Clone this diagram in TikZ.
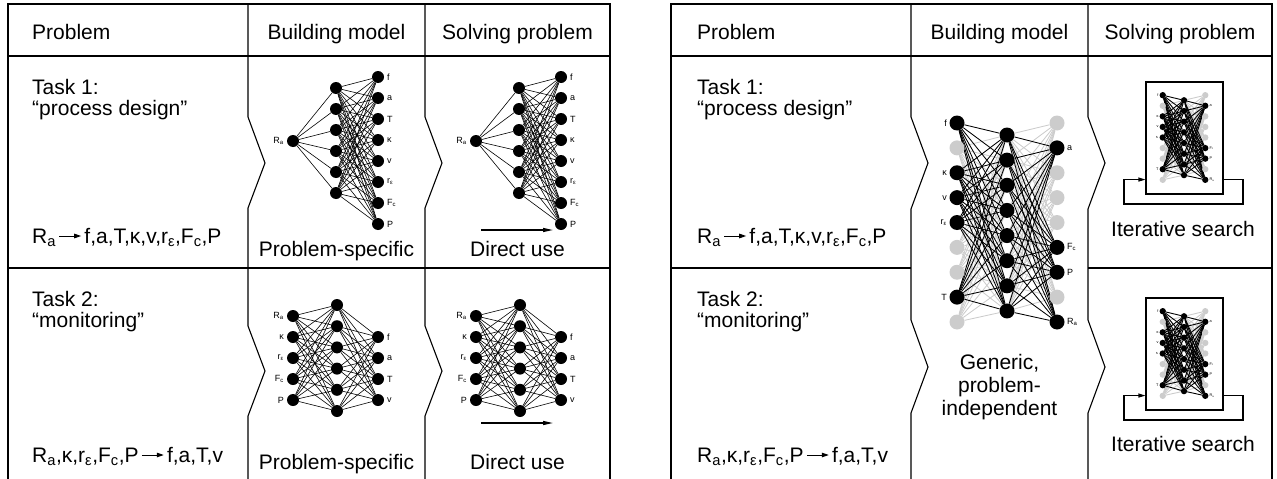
\documentclass[tikz,border=0pt]{standalone}
\usepackage{fontspec}
\setmainfont{Liberation Sans}
\usetikzlibrary{arrows.meta,positioning,backgrounds}
\definecolor{netgray}{gray}{0.8}

\begin{document}
\begin{tikzpicture}[x=1pt,y=-1pt]
	\tikzstyle{frame}=[line width=1.1pt]
	\tikzstyle{txt}=[font=\fontsize{21}{25}\selectfont,inner sep=0pt]
	\tikzstyle{formula}=[font=\fontsize{21}{25}\selectfont,inner sep=3pt]
	\tikzstyle{lbl}=[font=\fontsize{9}{10}\selectfont,inner sep=1pt]
	\tikzstyle{neuron}=[circle,fill=black,inner sep=0pt,minimum size=12pt]
	\tikzstyle{bigneuron}=[circle,fill=black,inner sep=0pt,minimum size=15pt]
	\tikzstyle{ghost}=[circle,fill=netgray,inner sep=0pt,minimum size=15pt]
	\tikzstyle{wire}=[line width=0.6pt]
	\tikzstyle{flow}=[line width=1.3pt,-{Triangle[length=10pt,width=4pt]}]
	\tikzstyle{implies}=[line width=1pt,-{Triangle[length=7pt,width=4.5pt]}]
	\tikzstyle{minibox}=[draw,line width=1.1pt,minimum width=77pt,minimum height=112pt,inner sep=0pt]
	\tikzstyle{feedback}=[line width=1.1pt,-{Triangle[length=7pt,width=4pt]}]

	\useasboundingbox (0,0) rectangle (1277,479);

	% left table
	\draw[frame] (8,479) -- (8,4) -- (610,4) -- (610,479);
	\draw[frame] (8,56) -- (610,56);
	\draw[frame] (8,268) -- (610,268);
	\foreach \sx in {248,425}
		\draw[frame] (\sx,4) -- (\sx,117) -- (\sx+17,163) -- (\sx,208) -- (\sx,326) -- (\sx+17,371) -- (\sx,416) -- (\sx,479);

	\node[txt,anchor=base west] (lhp) at (32,39) {Problem};
	\node[txt,anchor=base] (lhb) at (336.5,39) {Building model};
	\node[txt,anchor=base] (lhs) at (517.5,39) {Solving problem};
	\node[txt,anchor=base west] (lt1a) at (32,94) {Task 1:};
	\node[txt,anchor=base west] (lt1b) at (32,115) {“process design”};
	\node[txt,anchor=base west] (lt2a) at (32,306) {Task 2:};
	\node[txt,anchor=base west] (lt2b) at (32,327) {“monitoring”};
	\node[formula,anchor=base west] (lf1l) at (29,243) {R\textsubscript{a}};
	\node[formula,base right=22pt of lf1l] (lf1r) {f,a,T,κ,v,r\textsubscript{ε},F\textsubscript{c},P};
	\node[formula,anchor=base west] (lf2l) at (29,462) {R\textsubscript{a},κ,r\textsubscript{ε},F\textsubscript{c},P};
	\node[formula,base right=22pt of lf2l] (lf2r) {f,a,T,v};
	\draw[implies] ([yshift=7pt]lf1l.base east) -- ([yshift=7pt]lf1r.base west);
	\draw[implies] ([yshift=7pt]lf2l.base east) -- ([yshift=7pt]lf2r.base west);
	\node[txt,anchor=base] (lps1) at (336.5,256) {Problem-specific};
	\node[txt,anchor=base] (lps2) at (336.5,469) {Problem-specific};
	\node[txt,anchor=base] (ldu1) at (517.5,256) {Direct use};
	\node[txt,anchor=base] (ldu2) at (517.5,469) {Direct use};

	% task 1 networks
	\foreach \sx/\pre in {0/a,183/b}{
		\node[neuron] (\pre in) at (293+\sx,141) {};
		\node[lbl,anchor=east] (\pre inl) at (285+\sx,141) {R\textsubscript{a}};
		\foreach \k in {1,...,6}
			\node[neuron] (\pre h\k) at (336+\sx,{88+21*(\k-1)}) {};
		\foreach \k/\t in {1/f,2/a,3/T,4/κ,5/v,6/{r\textsubscript{ε}},7/{F\textsubscript{c}},8/P}{
			\node[neuron] (\pre o\k) at (378+\sx,{77+21*(\k-1)}) {};
			\node[lbl,anchor=west] (\pre ol\k) at (386+\sx,{77+21*(\k-1)}) {\t};
		}
		\begin{scope}[on background layer]
			\foreach \k in {1,...,6}{
				\draw[wire] (\pre in) -- (\pre h\k);
				\foreach \m in {1,...,8}
					\draw[wire] (\pre h\k) -- (\pre o\m);
			}
		\end{scope}
	}

	% task 2 networks
	\foreach \sx/\pre in {0/c,183/d}{
		\foreach \k/\t in {1/{R\textsubscript{a}},2/κ,3/{r\textsubscript{ε}},4/{F\textsubscript{c}},5/P}{
			\node[neuron] (\pre i\k) at (293+\sx,{316+21*(\k-1)}) {};
			\node[lbl,anchor=east] (\pre il\k) at (285+\sx,{316+21*(\k-1)}) {\t};
		}
		\foreach \k in {1,...,6}
			\node[neuron] (\pre h\k) at (337+\sx,{305+21.2*(\k-1)}) {};
		\foreach \k/\t in {1/f,2/a,3/T,4/v}{
			\node[neuron] (\pre o\k) at (378+\sx,{337+21*(\k-1)}) {};
			\node[lbl,anchor=west] (\pre ol\k) at (386+\sx,{337+21*(\k-1)}) {\t};
		}
		\begin{scope}[on background layer]
			\foreach \k in {1,...,6}{
				\foreach \m in {1,...,5}
					\draw[wire] (\pre i\m) -- (\pre h\k);
				\foreach \m in {1,...,4}
					\draw[wire] (\pre h\k) -- (\pre o\m);
			}
		\end{scope}
	}

	\coordinate (run1a) at (481,230);
	\coordinate (run1b) at (553,230);
	\coordinate (run2a) at (481,423);
	\coordinate (run2b) at (553,423);
	\draw[flow] (run1a) -- (run1b);
	\draw[flow] (run2a) -- (run2b);

	% right table
	\draw[frame] (671,479) -- (671,4) -- (1272,4) -- (1272,479);
	\draw[frame] (671,56) -- (1272,56);
	\draw[frame] (671,268) -- (911,268);
	\draw[frame] (1088,268) -- (1272,268);
	\foreach \sx in {911,1088}
		\draw[frame] (\sx,4) -- (\sx,117) -- (\sx+17,163) -- (\sx,209) -- (\sx,320) -- (\sx+17,367) -- (\sx,413) -- (\sx,479);

	\node[txt,anchor=base west] (rhp) at (697,39) {Problem};
	\node[txt,anchor=base] (rhb) at (999.5,39) {Building model};
	\node[txt,anchor=base] (rhs) at (1180,39) {Solving problem};
	\node[txt,anchor=base west] (rt1a) at (697,94) {Task 1:};
	\node[txt,anchor=base west] (rt1b) at (697,115) {“process design”};
	\node[txt,anchor=base west] (rt2a) at (697,306) {Task 2:};
	\node[txt,anchor=base west] (rt2b) at (697,327) {“monitoring”};
	\node[formula,anchor=base west] (rf1l) at (694,243) {R\textsubscript{a}};
	\node[formula,base right=22pt of rf1l] (rf1r) {f,a,T,κ,v,r\textsubscript{ε},F\textsubscript{c},P};
	\node[formula,anchor=base west] (rf2l) at (694,462) {R\textsubscript{a},κ,r\textsubscript{ε},F\textsubscript{c},P};
	\node[formula,base right=22pt of rf2l] (rf2r) {f,a,T,v};
	\draw[implies] ([yshift=7pt]rf1l.base east) -- ([yshift=7pt]rf1r.base west);
	\draw[implies] ([yshift=7pt]rf2l.base east) -- ([yshift=7pt]rf2r.base west);
	\node[txt,anchor=base] (rgen1) at (999.5,369) {Generic,};
	\node[txt,anchor=base] (rgen2) at (999.5,392) {problem-};
	\node[txt,anchor=base] (rgen3) at (999.5,415) {independent};
	\node[txt,anchor=base] (rit1) at (1183,236) {Iterative search};
	\node[txt,anchor=base] (rit2) at (1183,451) {Iterative search};

	% search boxes with feedback loop
	\node[minibox] (box1) at (1184.5,138) {};
	\node[minibox] (box2) at (1184.5,354) {};
	\coordinate (loop1r) at (1243,204);
	\coordinate (loop1l) at (1124,204);
	\coordinate (loop2r) at (1243,420);
	\coordinate (loop2l) at (1124,420);
	\draw[feedback] ([yshift=15pt]box1.south east) -| (loop1r) -- (loop1l) |- ([yshift=15pt]box1.south west);
	\draw[feedback] ([yshift=15pt]box2.south east) -| (loop2r) -- (loop2l) |- ([yshift=15pt]box2.south west);

	% generic network, full size and inside the search boxes
	\foreach \pre/\cx/\cy/\sc/\lw in {g/1007/222.5/1/0.85,m/1184/137.5/0.425/0.9,n/1184/353.5/0.425/0.9}{
		\begin{scope}[shift={(\cx,\cy)},scale=\sc,transform shape]
			\foreach \k/\st in {1/bigneuron,2/ghost,3/bigneuron,4/bigneuron,5/bigneuron,6/ghost,7/ghost,8/bigneuron,9/ghost}
				\node[\st] (\pre l\k) at (-50,{-99.5+24.875*(\k-1)}) {};
			\foreach \k/\st in {1/ghost,2/bigneuron,3/ghost,4/ghost,5/ghost,6/bigneuron,7/bigneuron,8/ghost,9/bigneuron}
				\node[\st] (\pre r\k) at (50,{-99.5+24.875*(\k-1)}) {};
			\foreach \k in {1,...,8}
				\node[bigneuron] (\pre h\k) at (0,{-87.5+25.14*(\k-1)}) {};
			\foreach \k/\t in {1/f,3/κ,4/v,5/{r\textsubscript{ε}},8/T}
				\node[lbl,anchor=east] (\pre ll\k) at (-59,{-99.5+24.875*(\k-1)}) {\t};
			\foreach \k/\t in {2/a,6/{F\textsubscript{c}},7/P,9/{R\textsubscript{a}}}
				\node[lbl,anchor=west] (\pre rl\k) at (59,{-99.5+24.875*(\k-1)}) {\t};
			\begin{scope}[on background layer]
				\foreach \m in {1,...,8}{
					\foreach \k in {2,6,7,9}
						\draw[netgray,line width=\lw pt] (\pre l\k) -- (\pre h\m);
					\foreach \k in {1,3,4,5,8}
						\draw[netgray,line width=\lw pt] (\pre h\m) -- (\pre r\k);
				}
				\foreach \m in {1,...,8}{
					\foreach \k in {1,3,4,5,8}
						\draw[line width=\lw pt] (\pre l\k) -- (\pre h\m);
					\foreach \k in {2,6,7,9}
						\draw[line width=\lw pt] (\pre h\m) -- (\pre r\k);
				}
			\end{scope}
		\end{scope}
	}
\end{tikzpicture}
\end{document}
